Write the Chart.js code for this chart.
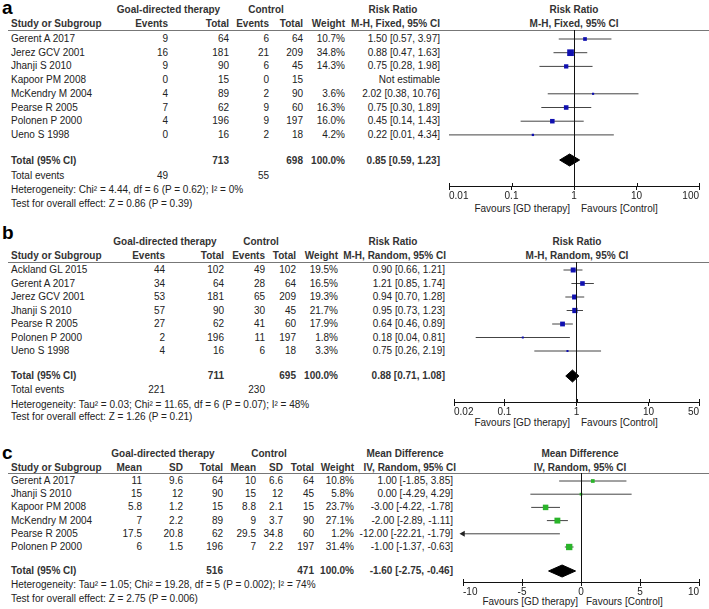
<!DOCTYPE html>
<html>
<head>
<meta charset="utf-8">
<script src="https://cdn.jsdelivr.net/npm/chart.js@4.4.1/dist/chart.umd.min.js"></script>
<style>
  html, body { margin: 0; padding: 0; background: #fff; }
  #page { position: relative; width: 709px; height: 609px; overflow: hidden; font-family: "Liberation Sans", Arial, sans-serif; }
  .t { position: absolute; white-space: nowrap; font-size: 10px; line-height: 12px; color: #222; }
  .b { font-weight: bold; color: #333; }
  .big { font-size: 19px; line-height: 19px; font-weight: bold; color: #000; }
  .hl { position: absolute; height: 1px; background: #777; }
  .vl { position: absolute; width: 1px; background: #111; z-index: 5; }
  canvas { position: absolute; }
</style>
</head>
<body>
<div id="page"></div>
<script>
// ---- panel a : mortality, risk ratio (fixed)
const aStudies = ["Gerent A 2017", "Jerez GCV 2001", "Jhanji S 2010", "Kapoor PM 2008", "McKendry M 2004", "Pearse R 2005", "Polonen P 2000", "Ueno S 1998"];
const aGdEvents = [9, 16, 9, 0, 4, 7, 4, 0];
const aGdTotal = [64, 181, 90, 15, 89, 62, 196, 16];
const aCtEvents = [6, 21, 6, 0, 2, 9, 9, 2];
const aCtTotal = [64, 209, 45, 15, 90, 60, 197, 18];
const aWeight = [10.7, 34.8, 14.3, null, 3.6, 16.3, 16.0, 4.2];
const aEst = [1.50, 0.88, 0.75, null, 2.02, 0.75, 0.45, 0.22];
const aLo = [0.57, 0.47, 0.28, null, 0.38, 0.30, 0.14, 0.01];
const aHi = [3.97, 1.63, 1.98, null, 10.76, 1.89, 1.43, 4.34];
const aPooled = [0.85, 0.59, 1.23];
const aTotals = [713, 698];
const aTotalEvents = [49, 55];
const aTicks = [0.01, 0.1, 1, 10, 100];
const aTickLabels = ["0.01", "0.1", "1", "10", "100"];

// ---- panel b : risk ratio (random)
const bStudies = ["Ackland GL 2015", "Gerent A 2017", "Jerez GCV 2001", "Jhanji S 2010", "Pearse R 2005", "Polonen P 2000", "Ueno S 1998"];
const bGdEvents = [44, 34, 53, 57, 27, 2, 4];
const bGdTotal = [102, 64, 181, 90, 62, 196, 16];
const bCtEvents = [49, 28, 65, 30, 41, 11, 6];
const bCtTotal = [102, 64, 209, 45, 60, 197, 18];
const bWeight = [19.5, 16.5, 19.3, 21.7, 17.9, 1.8, 3.3];
const bEst = [0.90, 1.21, 0.94, 0.95, 0.64, 0.18, 0.75];
const bLo = [0.66, 0.85, 0.70, 0.73, 0.46, 0.04, 0.26];
const bHi = [1.21, 1.74, 1.28, 1.23, 0.89, 0.81, 2.19];
const bPooled = [0.88, 0.71, 1.08];
const bTotals = [711, 695];
const bTotalEvents = [221, 230];
const bTicks = [0.02, 0.1, 1, 10, 50];
const bTickLabels = ["0.02", "0.1", "1", "10", "50"];

// ---- panel c : mean difference (random)
const cStudies = ["Gerent A 2017", "Jhanji S 2010", "Kapoor PM 2008", "McKendry M 2004", "Pearse R 2005", "Polonen P 2000"];
const cGdMean = ["11", "15", "5.8", "7", "17.5", "6"];
const cGdSD = ["9.6", "12", "1.2", "2.2", "20.8", "1.5"];
const cGdTotal = [64, 90, 15, 89, 62, 196];
const cCtMean = ["10", "15", "8.8", "9", "29.5", "7"];
const cCtSD = ["6.6", "12", "2.1", "3.7", "34.8", "2.2"];
const cCtTotal = [64, 45, 15, 90, 60, 197];
const cWeight = [10.8, 5.8, 23.7, 27.1, 1.2, 31.4];
const cEst = [1.00, 0.00, -3.00, -2.00, -12.00, -1.00];
const cLo = [-1.85, -4.29, -4.22, -2.89, -22.21, -1.37];
const cHi = [3.85, 4.29, -1.78, -1.11, -1.79, -0.63];
const cPooled = [-1.60, -2.75, -0.46];
const cTotals = [516, 471];
const cTicks = [-10, -5, 0, 5, 10];
const cTickLabels = ["-10", "-5", "0", "5", "10"];

const FONT = '"Liberation Sans", Arial, sans-serif';
Chart.defaults.font.family = FONT;
Chart.defaults.font.size = 10;
Chart.defaults.color = "#222";

const page = document.getElementById("page");

function put(str, x, y, align, cls) {
  const el = document.createElement("div");
  el.className = "t" + (cls ? " " + cls : "");
  el.textContent = str;
  el.style.left = x + "px";
  el.style.top = y + "px";
  const tx = align === "r" ? "-100%" : align === "c" ? "-50%" : "0";
  el.style.transform = "translate(" + tx + ",-50%)";
  page.appendChild(el);
}

function hline(y) {
  const el = document.createElement("div");
  el.className = "hl";
  el.style.left = "8px";
  el.style.width = "701px";
  el.style.top = y + "px";
  page.appendChild(el);
}

const ci = (e, l, h) => e.toFixed(2) + " [" + l.toFixed(2) + ", " + h.toFixed(2) + "]";
const pct = w => w.toFixed(1) + "%";

// small tick marks poking above the axis line
const tickUp = {
  id: "tickUp",
  afterDraw(chart) {
    const s = chart.scales.x, ctx = chart.ctx, b = chart.chartArea.bottom;
    ctx.save();
    ctx.strokeStyle = "#111";
    ctx.lineWidth = 1;
    s.ticks.forEach(t => {
      const x = Math.round(s.getPixelForValue(t.value)) + 0.5;
      ctx.beginPath();
      ctx.moveTo(x, b - 3);
      ctx.lineTo(x, b);
      ctx.stroke();
    });
    ctx.restore();
  }
};

function forest(o) {
  const cv = document.createElement("canvas");
  const left = o.plotL - 10;
  const w = 709 - left;
  const h = o.axisY - o.line + 16;
  cv.width = w; cv.height = h;
  cv.style.left = left + "px";
  cv.style.top = o.line + "px";
  cv.style.width = w + "px";
  cv.style.height = h + "px";
  page.appendChild(cv);

  const yv = px => (px - o.row0) / o.step;
  const xMin = o.ticks[0], xMax = o.ticks[o.ticks.length - 1];

  const sq = [], sqR = [], lines = [], arrows = [];
  o.est.forEach((e, i) => {
    if (e == null) return;
    sq.push({ x: e, y: i });
    sqR.push(Math.max(1.4, 0.8 * Math.sqrt(o.weight[i])));
    lines.push({
      data: [{ x: o.lo[i], y: i }, { x: o.hi[i], y: i }],
      borderColor: "#444", borderWidth: 1, pointRadius: 0, showLine: true, fill: false
    });
    if (o.lo[i] < xMin) arrows.push({ x: xMin, y: i });
  });

  const T = yv(o.totalY), d = 6 / o.step;
  const [pe, pl, ph] = o.pooled;
  const datasets = [
    { data: sq, showLine: false, pointStyle: "rect", pointRadius: sqR, backgroundColor: o.color, borderWidth: 0 },
    { data: arrows, showLine: false, pointStyle: "triangle", pointRotation: -90, pointRadius: 3.5, backgroundColor: "#222", borderWidth: 0, clip: false },
    {
      data: [{ x: pl, y: T }, { x: pe, y: T - d }, { x: ph, y: T }, { x: pe, y: T + d }, { x: pl, y: T }],
      borderColor: "#000", backgroundColor: "#000", borderWidth: 1, pointRadius: 0, fill: "shape", tension: 0
    },
    ...lines
  ];

  const chart = new Chart(cv, {
    type: "line",
    data: { datasets },
    options: {
      responsive: false,
      animation: false,
      events: [],
      layout: { autoPadding: false, padding: { left: 10, right: 10, top: 0, bottom: 0 } },
      plugins: { legend: { display: false }, tooltip: { enabled: false } },
      scales: {
        x: {
          type: o.log ? "logarithmic" : "linear",
          min: xMin, max: xMax,
          afterBuildTicks: s => { s.ticks = o.ticks.map(v => ({ value: v })); },
          ticks: {
            align: "inner", padding: 0, autoSkip: false, maxRotation: 0,
            color: "#222", font: { size: 10 },
            callback: (v, i) => o.tickLabels[i]
          },
          grid: { drawOnChartArea: false, tickColor: "#111", tickLength: 4, lineWidth: 1 },
          border: { color: "#111", width: 1 }
        },
        y: { type: "linear", display: false, reverse: true, min: yv(o.line), max: yv(o.axisY) }
      }
    },
    plugins: [tickUp]
  });

  // line of no effect, placed from the chart's own x scale and plot area
  const a = chart.chartArea;
  const vl = document.createElement("div");
  vl.className = "vl";
  vl.style.left = (left + Math.floor(chart.scales.x.getPixelForValue(o.nullVal))) + "px";
  vl.style.top = (o.line + a.top) + "px";
  vl.style.height = (a.bottom - a.top) + "px";
  page.appendChild(vl);
}

// ================= panel a
(function () {
  put("a", 2, 7, "l", "big");
  put("Goal-directed therapy", 168.5, 10, "c", "b");
  put("Control", 266, 10, "c", "b");
  put("Risk Ratio", 393, 10, "c", "b");
  put("Risk Ratio", 574, 10, "c", "b");
  put("Study or Subgroup", 11, 24, "l", "b");
  put("Events", 168, 24, "r", "b");
  put("Total", 229, 24, "r", "b");
  put("Events", 269, 24, "r", "b");
  put("Total", 303, 24, "r", "b");
  put("Weight", 345, 24, "r", "b");
  put("M-H, Fixed, 95% CI", 440, 24, "r", "b");
  put("M-H, Fixed, 95% CI", 574, 24, "c", "b");
  hline(30);
  const row0 = 39, step = 13.7;
  aStudies.forEach((s, i) => {
    const y = row0 + i * step;
    put(s, 11, y, "l");
    put(String(aGdEvents[i]), 168, y, "r");
    put(String(aGdTotal[i]), 229, y, "r");
    put(String(aCtEvents[i]), 269, y, "r");
    put(String(aCtTotal[i]), 303, y, "r");
    if (aWeight[i] != null) put(pct(aWeight[i]), 345, y, "r");
    put(aEst[i] == null ? "Not estimable" : ci(aEst[i], aLo[i], aHi[i]), 440, y, "r");
  });
  put("Total (95% CI)", 11, 161, "l", "b");
  put(String(aTotals[0]), 229, 161, "r", "b");
  put(String(aTotals[1]), 303, 161, "r", "b");
  put("100.0%", 345, 161, "r", "b");
  put(ci(aPooled[0], aPooled[1], aPooled[2]), 440, 161, "r", "b");
  put("Total events", 11, 176, "l");
  put(String(aTotalEvents[0]), 168, 176, "r");
  put(String(aTotalEvents[1]), 269, 176, "r");
  put("Heterogeneity: Chi\u00b2 = 4.44, df = 6 (P = 0.62); I\u00b2 = 0%", 11, 190, "l");
  put("Test for overall effect: Z = 0.86 (P = 0.39)", 11, 203.5, "l");
  put("Favours [GD therapy]", 570, 209, "r");
  put("Favours [Control]", 581, 209, "l");
  forest({
    est: aEst, lo: aLo, hi: aHi, weight: aWeight, pooled: aPooled,
    ticks: aTicks, tickLabels: aTickLabels, log: true, nullVal: 1, color: "#1010b0",
    plotL: 449, line: 30, axisY: 186, row0, step, totalY: 160
  });
})();

// ================= panel b
(function () {
  put("b", 2, 231.5, "l", "big");
  put("Goal-directed therapy", 165, 242, "c", "b");
  put("Control", 261, 242, "c", "b");
  put("Risk Ratio", 393, 242, "c", "b");
  put("Risk Ratio", 577, 242, "c", "b");
  put("Study or Subgroup", 11, 255.5, "l", "b");
  put("Events", 165, 255.5, "r", "b");
  put("Total", 224, 255.5, "r", "b");
  put("Events", 265, 255.5, "r", "b");
  put("Total", 296, 255.5, "r", "b");
  put("Weight", 338, 255.5, "r", "b");
  put("M-H, Random, 95% CI", 446, 255.5, "r", "b");
  put("M-H, Random, 95% CI", 577, 255.5, "c", "b");
  hline(262);
  const row0 = 270, step = 13.5;
  bStudies.forEach((s, i) => {
    const y = row0 + i * step;
    put(s, 11, y, "l");
    put(String(bGdEvents[i]), 165, y, "r");
    put(String(bGdTotal[i]), 224, y, "r");
    put(String(bCtEvents[i]), 265, y, "r");
    put(String(bCtTotal[i]), 296, y, "r");
    put(pct(bWeight[i]), 338, y, "r");
    put(ci(bEst[i], bLo[i], bHi[i]), 445, y, "r");
  });
  put("Total (95% CI)", 11, 376, "l", "b");
  put(String(bTotals[0]), 224, 376, "r", "b");
  put(String(bTotals[1]), 296, 376, "r", "b");
  put("100.0%", 338, 376, "r", "b");
  put(ci(bPooled[0], bPooled[1], bPooled[2]), 445, 376, "r", "b");
  put("Total events", 11, 390, "l");
  put(String(bTotalEvents[0]), 165, 390, "r");
  put(String(bTotalEvents[1]), 265, 390, "r");
  put("Heterogeneity: Tau\u00b2 = 0.03; Chi\u00b2 = 11.65, df = 6 (P = 0.07); I\u00b2 = 48%", 11, 405, "l");
  put("Test for overall effect: Z = 1.26 (P = 0.21)", 11, 417, "l");
  put("Favours [GD therapy]", 570, 423, "r");
  put("Favours [Control]", 581, 423, "l");
  forest({
    est: bEst, lo: bLo, hi: bHi, weight: bWeight, pooled: bPooled,
    ticks: bTicks, tickLabels: bTickLabels, log: true, nullVal: 1, color: "#1010b0",
    plotL: 454, line: 262, axisY: 402, row0, step, totalY: 376
  });
})();

// ================= panel c
(function () {
  put("c", 2, 451.5, "l", "big");
  put("Goal-directed therapy", 163, 454, "c", "b");
  put("Control", 269, 454, "c", "b");
  put("Mean Difference", 405, 454, "c", "b");
  put("Mean Difference", 580, 454, "c", "b");
  put("Study or Subgroup", 11, 468, "l", "b");
  put("Mean", 142, 468, "r", "b");
  put("SD", 183, 468, "r", "b");
  put("Total", 223, 468, "r", "b");
  put("Mean", 256, 468, "r", "b");
  put("SD", 283, 468, "r", "b");
  put("Total", 314, 468, "r", "b");
  put("Weight", 354, 468, "r", "b");
  put("IV, Random, 95% CI", 456, 468, "r", "b");
  put("IV, Random, 95% CI", 580, 468, "c", "b");
  hline(473);
  const row0 = 481, step = 13.2;
  cStudies.forEach((s, i) => {
    const y = row0 + i * step;
    put(s, 11, y, "l");
    put(cGdMean[i], 142, y, "r");
    put(cGdSD[i], 183, y, "r");
    put(String(cGdTotal[i]), 223, y, "r");
    put(cCtMean[i], 256, y, "r");
    put(cCtSD[i], 283, y, "r");
    put(String(cCtTotal[i]), 314, y, "r");
    put(pct(cWeight[i]), 354, y, "r");
    put(ci(cEst[i], cLo[i], cHi[i]), 453, y, "r");
  });
  put("Total (95% CI)", 11, 571, "l", "b");
  put(String(cTotals[0]), 223, 571, "r", "b");
  put(String(cTotals[1]), 314, 571, "r", "b");
  put("100.0%", 354, 571, "r", "b");
  put(ci(cPooled[0], cPooled[1], cPooled[2]), 453, 571, "r", "b");
  put("Heterogeneity: Tau\u00b2 = 1.05; Chi\u00b2 = 19.28, df = 5 (P = 0.002); I\u00b2 = 74%", 11, 585, "l");
  put("Test for overall effect: Z = 2.75 (P = 0.006)", 11, 598.5, "l");
  put("Favours [GD therapy]", 578, 602, "r");
  put("Favours [Control]", 586, 602, "l");
  forest({
    est: cEst, lo: cLo, hi: cHi, weight: cWeight, pooled: cPooled,
    ticks: cTicks, tickLabels: cTickLabels, log: false, nullVal: 0, color: "#2ab42a",
    plotL: 463, line: 473, axisY: 582, row0, step, totalY: 571
  });
})();
</script>
</body>
</html>
